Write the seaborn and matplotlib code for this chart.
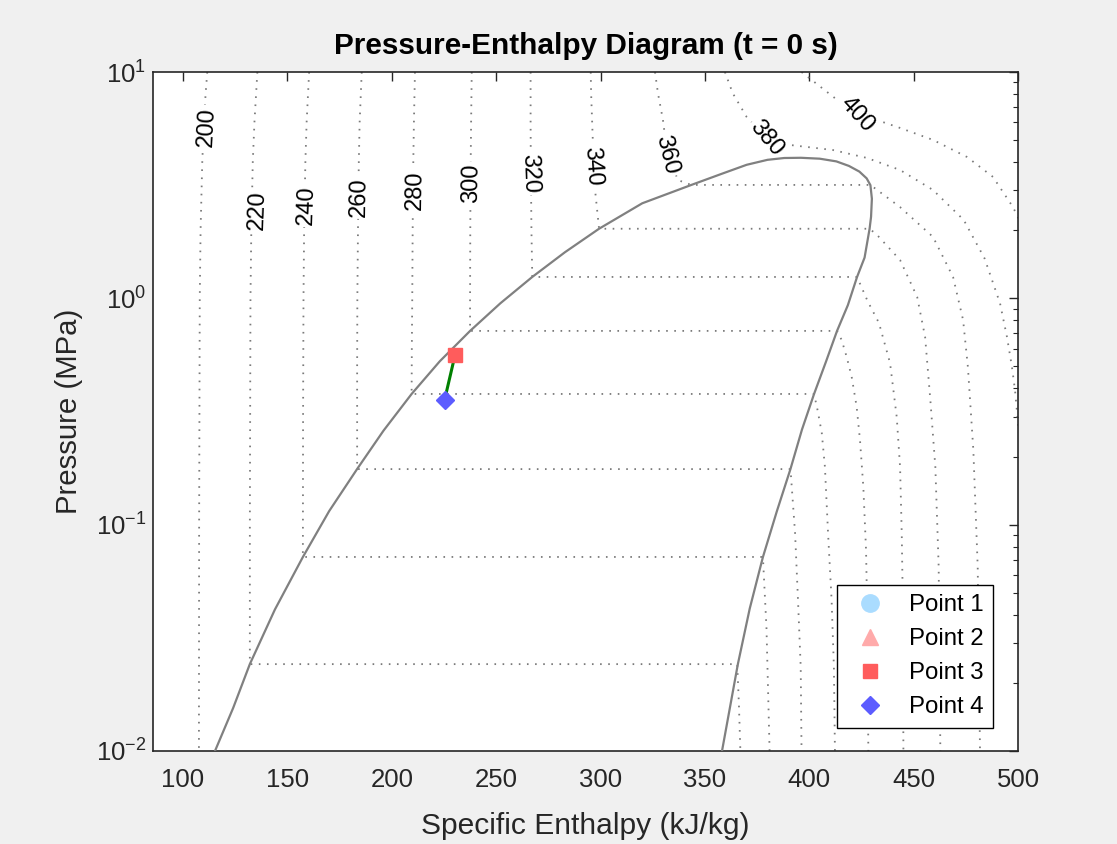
import numpy as np
import pandas as pd
import seaborn as sns
import matplotlib
matplotlib.use('Agg')
import matplotlib.pyplot as plt
from matplotlib.ticker import NullLocator

# saturation dome (h in kJ/kg, log10 of P in MPa), liquid side -> vapour side
dome_h = [115.3, 124.0, 132.0, 144.0, 157.4, 170.0, 183.4, 196.0, 209.5, 223.0, 237.5,
          252.0, 267.3, 283.0, 299.3, 320.0, 343.5, 358.0, 370.0, 380.0, 388.0, 396.0,
          405.0, 413.0, 419.0, 424.0, 427.5, 429.3, 430.0, 429.6, 428.9, 426.5, 422.9,
          418.5, 413.3, 408.0, 402.3, 396.5, 391.0, 384.5, 377.8, 371.5, 365.8, 358.2]
dome_logp = [-2.0, -1.81, -1.616, -1.375, -1.143, -0.94, -0.754, -0.585, -0.4225, -0.278,
             -0.144, -0.022, 0.0945, 0.204, 0.3075, 0.42, 0.501, 0.55, 0.59, 0.612, 0.620,
             0.621, 0.617, 0.605, 0.585, 0.56, 0.53, 0.50, 0.44, 0.36, 0.3075, 0.18, 0.0945,
             -0.03, -0.144, -0.28, -0.4225, -0.58, -0.754, -0.94, -1.143, -1.37, -1.616, -2.0]

# isotherms (K)
h_200 = [111.6, 110.8, 110.0, 109.2, 108.4, 108.0, 107.7, 107.6]
p_200 = [10, 8, 6, 4, 2, 1, 0.1, 0.01]
h_220 = [135.6, 134.2, 133.4, 132.7, 132.3, 132.0, 132.0, 365.5, 366.3, 367.0]
p_220 = [10, 6, 4, 2, 1, 0.1, 0.0242, 0.0242, 0.016, 0.01]
h_240 = [160.4, 159.2, 158.6, 158.0, 157.7, 157.5, 157.4, 377.8, 379.5, 381.0]
p_240 = [10, 6, 4, 2, 1, 0.3, 0.072, 0.072, 0.035, 0.01]
h_260 = [185.6, 184.6, 184.2, 183.8, 183.5, 183.4, 183.4, 391.0, 393.2, 394.6, 395.9, 396.3]
p_260 = [10, 6, 4, 2, 1, 0.5, 0.176, 0.176, 0.0918, 0.0465, 0.0235, 0.01]
h_280 = [211.1, 210.6, 210.3, 210.0, 209.8, 209.6, 209.5, 402.3, 404.0, 406.0, 407.5, 409.0,
         410.7, 411.8, 412.3]
p_280 = [10, 6, 4, 2, 1, 0.6, 0.378, 0.378, 0.32, 0.254, 0.18, 0.0918, 0.0465, 0.0235, 0.01]
h_300 = [238.3, 238.0, 237.8, 237.6, 237.5, 237.5, 413.3, 415.5, 417.9, 420.3, 422.7, 424.3,
         425.9, 427.2, 427.8, 428.3]
p_300 = [10, 6, 4, 2, 1, 0.718, 0.718, 0.655, 0.552, 0.451, 0.332, 0.2365, 0.147, 0.0773,
         0.0392, 0.01]
h_320 = [266.5, 266.5, 266.6, 266.9, 267.3, 422.9, 428.0, 433.4, 438.7, 441.9, 443.5, 444.3,
         444.8, 445.1]
p_320 = [10, 6, 4, 2, 1.243, 1.243, 0.97, 0.778, 0.518, 0.299, 0.18, 0.0918, 0.0465, 0.01]
h_340 = [295.3, 295.5, 296.3, 297.4, 299.3, 428.9, 432.5, 443.5, 451.7, 455.5, 458.0, 460.4,
         462.0, 462.8]
p_340 = [10, 8, 5, 3, 2.03, 2.03, 1.905, 1.477, 1.014, 0.675, 0.356, 0.18, 0.065, 0.01]
h_360 = [326.1, 327.5, 329.9, 331.9, 337.1, 343.5, 429.3, 443.5, 459.3, 468.9, 473.7, 476.0,
         478.6, 480.7, 481.8]
p_360 = [10, 8.07, 6.14, 4.39, 3.33, 3.17, 3.17, 2.53, 1.867, 1.242, 0.802, 0.497, 0.214,
         0.065, 0.01]
h_380 = [359.6, 363.3, 370.0, 379.6, 390.8, 411.4, 427.7, 443.5, 459.3, 474.0, 484.0, 491.4,
         494.7, 497.1, 498.6, 500.5, 502.0]
p_380 = [10, 8.07, 6.33, 5.10, 4.76, 4.52, 4.17, 3.69, 3.01, 2.22, 1.50, 0.95, 0.676, 0.498,
         0.39, 0.25, 0.15]
h_400 = [396.3, 411.4, 422.7, 432.3, 443.5, 459.3, 475.6, 488.0, 497.6, 503.0]
p_400 = [10, 7.78, 6.46, 6.14, 5.66, 5.01, 4.21, 3.44, 2.53, 2.0]

iso_T = [200, 220, 240, 260, 280, 300, 320, 340, 360, 380, 400]
iso_h = [h_200, h_220, h_240, h_260, h_280, h_300, h_320, h_340, h_360, h_380, h_400]
iso_p = [p_200, p_220, p_240, p_260, p_280, p_300, p_320, p_340, p_360, p_380, p_400]

# isotherm label positions
label_h = [111.5, 135.6, 159.2, 184.6, 211.1, 238.3, 266.2, 296.2, 331.7, 379.6, 422.7]
label_p = [5.71, 2.455, 2.58, 2.81, 3.01, 3.22, 3.57, 3.82, 4.30, 5.10, 6.46]
label_rot = [87, 88, 88, 89, 89, 89, -88, -86, -76, -50, -48]

# cycle state points
point_names = ['Point 1', 'Point 2', 'Point 3', 'Point 4']
point_h = [np.nan, np.nan, 230.3, 225.3]
point_p = [np.nan, np.nan, 0.562, 0.356]
point_markers = ['o', '^', 's', 'D']
point_sizes = [12.5, 12, 9.5, 9.5]
point_colors = ['#aadcff', '#ffaaaa', '#ff5c5c', '#5c5cff']

iso_df = pd.concat([pd.DataFrame({'T': t, 'h': h, 'P': p})
                    for t, h, p in zip(iso_T, iso_h, iso_p)], ignore_index=True)
dome_p = 10 ** np.array(dome_logp)

sns.set_theme(style='white')
plt.rcParams['font.family'] = ['Liberation Sans', 'DejaVu Sans']
plt.rcParams['axes.edgecolor'] = '#262626'

fig = plt.figure(figsize=(11.17, 8.44), dpi=100, facecolor='#f0f0f0')
ax = fig.add_axes([0.13697, 0.11019, 0.77440, 0.80450])
ax.set_facecolor('white')

sns.lineplot(data=iso_df, x='h', y='P', units='T', estimator=None, sort=False,
             color='#7a7a7a', linewidth=1.3, linestyle=(0, (0.9, 3.6)), legend=False, ax=ax)
sns.lineplot(x=dome_h, y=dome_p, estimator=None, sort=False, color='#808080',
             linewidth=1.6, ax=ax, zorder=4)

for t, lh, lp, rot in zip(iso_T, label_h, label_p, label_rot):
    ax.text(lh, lp, str(t), rotation=rot, rotation_mode='anchor', ha='center', va='center',
            fontsize=17, color='black', zorder=3,
            bbox=dict(boxstyle='square,pad=0.1', fc='white', ec='none'))

sns.lineplot(x=point_h, y=point_p, estimator=None, sort=False, color='#008000',
             linewidth=2.2, ax=ax, zorder=5)
for name, h, p, m, s, c in zip(point_names, point_h, point_p, point_markers,
                                point_sizes, point_colors):
    ax.plot([h], [p], linestyle='none', marker=m, markersize=s, color=c,
            markeredgecolor=c, label=name, zorder=6)

ax.set_yscale('log')
ax.set_xlim(85.6, 500)
ax.set_ylim(0.01, 10)
ax.set_xticks(range(100, 501, 50))
ax.xaxis.set_minor_locator(NullLocator())

ax.tick_params(which='both', direction='in', top=True, right=True, colors='#262626',
               labelsize=18.5)
ax.tick_params(axis='x', which='major', pad=12)
ax.tick_params(axis='y', which='major', pad=5)
ax.tick_params(which='major', length=6.5, width=1)
ax.tick_params(which='minor', length=3.5, width=0.8)
for sp in ax.spines.values():
    sp.set_linewidth(1.2)
    sp.set_color('#262626')

ax.set_title('Pressure-Enthalpy Diagram (t = 0 s)', fontsize=21.4, fontweight='bold',
             color='black', pad=13)
ax.set_xlabel('Specific Enthalpy (kJ/kg)', fontsize=21.6, color='#262626', labelpad=15)
ax.set_ylabel('Pressure (MPa)', fontsize=21.2, color='#262626', labelpad=9)

leg = ax.legend(loc='lower right', bbox_to_anchor=(0.971, 0.034), fontsize=17.3,
                frameon=True, fancybox=False, framealpha=1, edgecolor='black',
                handletextpad=0.6, labelspacing=0.5, borderpad=0.4, borderaxespad=0)
leg.get_frame().set_linewidth(1.0)
for txt in leg.get_texts():
    txt.set_color('black')

fig.savefig('out.png', dpi=100, facecolor=fig.get_facecolor())
